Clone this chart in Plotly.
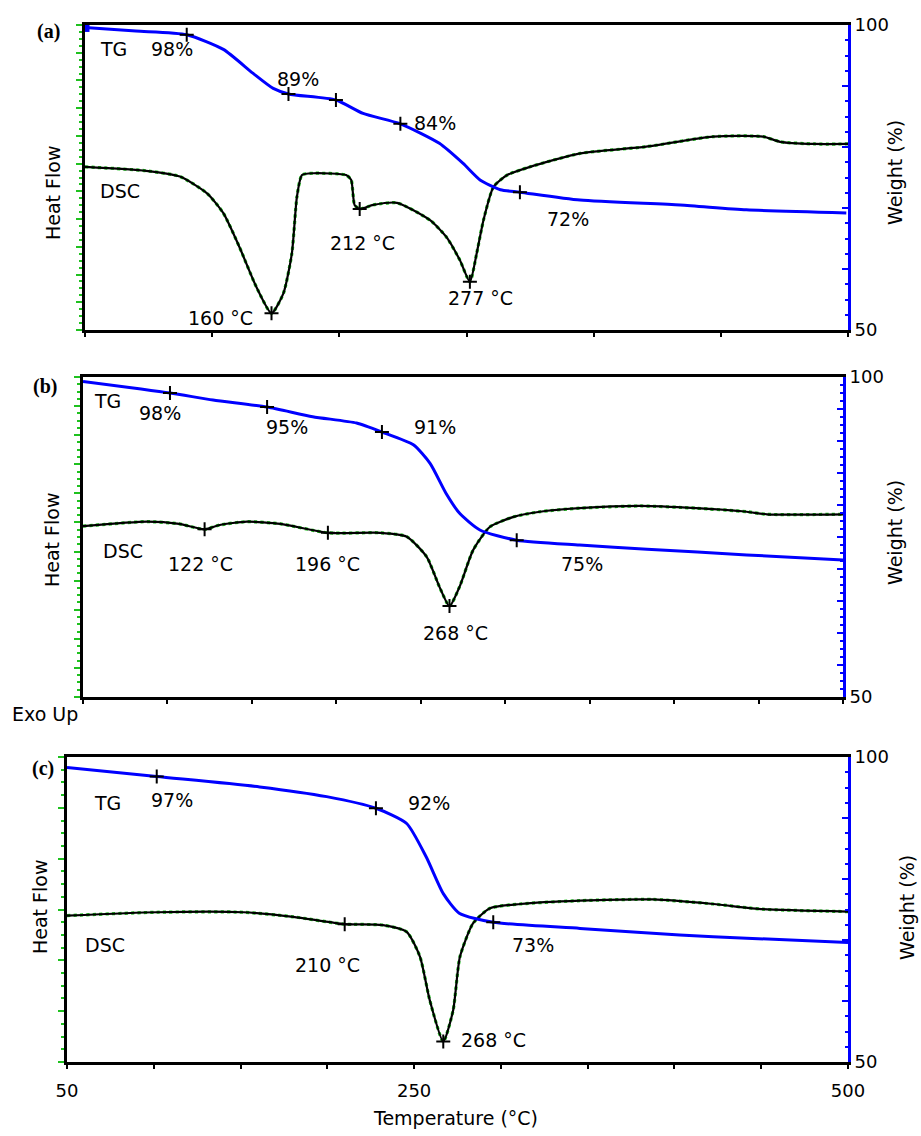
import plotly.graph_objects as go
import numpy as np

W, H = 921, 1136

# ---------------- data ----------------
# Panel (a)
a_tg_T = [50, 80, 110, 131.6, 149, 161, 170, 198, 214, 236, 259, 273, 283, 295, 306.5, 342, 401, 440, 499]
a_tg_W = [99.6, 99.0, 98.4, 96.0, 92.1, 89.6, 88.7, 87.7, 85.5, 83.8, 80.6, 77.3, 74.6, 73.0, 72.6, 71.3, 70.5, 69.7, 69.2]
a_dsc_T = [50, 86, 106, 122, 131.6, 141, 151, 160, 167, 172, 175, 178, 185, 204, 207, 209, 212, 220, 234, 253.5, 263, 271, 277,
           281, 285, 291, 299, 312.5, 342, 381, 420.5, 450, 460, 480, 500]
a_dsc_H = [53.5, 52.2, 50.3, 44.8, 38.3, 27.3, 14.2, 5.5, 12, 25.1, 43.7, 50.8, 51.4, 50.8, 49.2, 41, 39.7, 41, 41.7, 36, 30.6, 23, 15.8,
           25.1, 36, 47, 50.8, 53.5, 57.9, 60.1, 63.4, 63.4, 61.7, 61, 61]
a_tg_mark_T = [110, 170, 198, 236, 306.5]
a_tg_mark_W = [98.4, 88.7, 87.7, 83.8, 72.6]
a_dsc_mark_T = [160, 212, 277]
a_dsc_mark_H = [5.5, 39.7, 15.8]

# Panel (b)
b_tg_T = [50, 101.5, 127, 159, 186, 212, 227, 245.6, 255.5, 265, 273, 285, 306.8, 344, 384, 443, 500]
b_tg_W = [99.3, 97.5, 96.4, 95.3, 93.8, 92.8, 91.4, 89.4, 86.5, 81.8, 78.7, 76.1, 74.5, 73.75, 73.1, 72.2, 71.4]
b_dsc_T = [50, 88, 107, 122, 131, 147, 167, 195, 226, 241.7, 253.5, 261, 267, 273, 281, 291, 305, 320.6, 344, 380, 413, 443, 455, 500]
b_dsc_H = [53.4, 54.8, 54.1, 52.4, 53.75, 54.8, 54.1, 51.3, 51.3, 50.1, 43.8, 34.5, 28.4, 34.5, 45.9, 53.2, 56.3, 57.9, 59, 59.7, 59, 57.9, 57.1, 57.1]
b_tg_mark_T = [101.5, 159, 227, 306.8]
b_tg_mark_W = [97.5, 95.3, 91.4, 74.5]
b_dsc_mark_T = [122, 195, 267]
b_dsc_mark_H = [52.4, 51.3, 28.4]

# Panel (c)
c_tg_T = [50, 101.7, 161, 199.6, 228, 245.7, 257, 266.8, 276, 295.6, 345.6, 403, 441.6, 500]
c_tg_W = [98.3, 96.8, 95.1, 93.5, 91.6, 89.1, 83.6, 77.6, 74.4, 72.9, 71.9, 70.8, 70.3, 69.6]
c_dsc_T = [50, 101.7, 151.6, 180.4, 210, 232, 245.7, 253.4, 259, 266.8, 272.5, 276.4, 284, 293.7, 311, 345.6, 387.8, 422.4, 451, 500]
c_dsc_H = [48, 49.1, 49.1, 47.6, 45.2, 44.9, 42.7, 34.5, 20.3, 6.7, 17, 34.5, 45.5, 50.4, 51.8, 52.9, 53.3, 51.8, 50.1, 49.3]
c_tg_mark_T = [101.7, 228, 295.6]
c_tg_mark_W = [96.8, 91.6, 72.9]
c_dsc_mark_T = [210, 266.8]
c_dsc_mark_H = [45.2, 6.7]

x_tick_vals = [50, 100, 150, 200, 250, 300, 350, 400, 450, 500]
x_tick_text = ["50", "", "", "", "250", "", "", "", "", "500"]

# ---------------- layout geometry (pixels) ----------------
panels = [
    dict(l=85, r=848, t=25, b=330, xd=75, hn=11, wd=10),
    dict(l=83, r=843, t=377, b=697, xd=50, hn=11, wd=5),
    dict(l=67, r=848, t=757, b=1062, xd=50, hn=6, wd=10),
]
data = [
    (a_tg_T, a_tg_W, a_dsc_T, a_dsc_H, a_tg_mark_T, a_tg_mark_W, a_dsc_mark_T, a_dsc_mark_H),
    (b_tg_T, b_tg_W, b_dsc_T, b_dsc_H, b_tg_mark_T, b_tg_mark_W, b_dsc_mark_T, b_dsc_mark_H),
    (c_tg_T, c_tg_W, c_dsc_T, c_dsc_H, c_tg_mark_T, c_tg_mark_W, c_dsc_mark_T, c_dsc_mark_H),
]

FONT = "DejaVu Sans"
TXT = 19
GREEN = "#1fc11f"
BLUE = "#0000ff"

def px(x):
    return x / W

def py(y):
    return 1 - y / H

fig = go.Figure()
layout = dict(
    width=W, height=H, margin=dict(l=0, r=0, t=0, b=0, autoexpand=False),
    paper_bgcolor="white", plot_bgcolor="white", showlegend=False,
    font=dict(family=FONT, size=18, color="black"),
)

for i, (p, d) in enumerate(zip(panels, data)):
    tgT, tgW, dT, dH, tmT, tmW, dmT, dmH = d
    xn = "x" if i == 0 else f"x{i+1}"
    yl = "y" if i == 0 else f"y{2*i+1}"
    yr = f"y{2*i+2}"
    xk = "xaxis" if i == 0 else f"xaxis{i+1}"
    ylk = "yaxis" if i == 0 else f"yaxis{2*i+1}"
    yrk = f"yaxis{2*i+2}"

    # DSC (green dashed underlay + black line)
    fig.add_trace(go.Scatter(x=dT, y=dH, xaxis=xn, yaxis=yl, mode="lines",
                             line=dict(color=GREEN, width=3.2, dash="dot", shape="spline", smoothing=0.6),
                             hoverinfo="skip"))
    fig.add_trace(go.Scatter(x=dT, y=dH, xaxis=xn, yaxis=yl, mode="lines",
                             line=dict(color="black", width=2.2, shape="spline", smoothing=0.6)))
    fig.add_trace(go.Scatter(x=dmT, y=dmH, xaxis=xn, yaxis=yl, mode="markers",
                             marker=dict(symbol="cross-thin", size=10, line=dict(color="black", width=2))))
    # TG
    fig.add_trace(go.Scatter(x=tgT, y=tgW, xaxis=xn, yaxis=yr, mode="lines",
                             line=dict(color=BLUE, width=3, shape="spline", smoothing=0.6)))
    fig.add_trace(go.Scatter(x=tmT, y=tmW, xaxis=xn, yaxis=yr, mode="markers",
                             marker=dict(symbol="cross-thin", size=10, line=dict(color="black", width=2))))

    xdom = [px(p["l"]), px(p["r"])]
    ydom = [py(p["b"]), py(p["t"])]
    xticks = list(range(50, 501, p["xd"]))
    xax = dict(domain=xdom, range=[50, 500], anchor=yl, showline=True, mirror=True,
               linecolor="black", linewidth=3, showgrid=False, zeroline=False,
               ticks="outside", ticklen=4, tickwidth=2, tickcolor="black",
               tickvals=xticks, fixedrange=True)
    if i == 2:
        xax["tickvals"] = x_tick_vals
        xax["ticktext"] = x_tick_text
        xax["showticklabels"] = True
        xax["ticklabelstandoff"] = 6
        xax["tickfont"] = dict(size=18)
    else:
        xax["showticklabels"] = False
    layout[xk] = xax

    hvals = list(np.linspace(0, 100, p["hn"] + 1))
    layout[ylk] = dict(domain=ydom, range=[0, 100], anchor=xn, showline=True, linecolor="black",
                       linewidth=2.5, showgrid=False, zeroline=False, ticks="outside", ticklen=6,
                       tickwidth=2, tickcolor=GREEN, tickvals=hvals, showticklabels=False,
                       minor=dict(ticks="outside", ticklen=3, tickwidth=2, tickcolor=GREEN,
                                  tick0=0, dtick=100 / p["hn"] / 4))
    wvals = list(range(50, 101, p["wd"]))
    layout[yrk] = dict(domain=ydom, range=[50, 100], anchor=xn, overlaying=yl, side="right",
                       showline=True, linecolor=BLUE, linewidth=3, showgrid=False, zeroline=False,
                       ticks="inside", ticklen=6, tickwidth=2, tickcolor=BLUE, tickvals=wvals,
                       ticktext=[str(v) if v in (50, 100) else "" for v in wvals],
                       tickfont=dict(size=18, color="black"),
                       minor=dict(ticks="inside", ticklen=3, tickwidth=2, tickcolor=BLUE, tick0=50,
                                  dtick=p["wd"] / 4))

fig.update_layout(**layout)

# start marker (blue square) on panel (a)
fig.add_trace(go.Scatter(x=[a_tg_T[0]], y=[a_tg_W[0]], xaxis="x", yaxis="y2", mode="markers",
                         marker=dict(symbol="square", size=9, color=BLUE)))

# ---------------- texts ----------------
texts = [
    ("TG", 113, 49), ("98%", 172, 49), ("89%", 298, 79), ("84%", 435, 123), ("DSC", 120, 191),
    ("160 °C", 220, 318), ("212 °C", 362, 243), ("277 °C", 480, 298), ("72%", 568, 219),
    ("TG", 107, 401), ("98%", 160, 413), ("95%", 287, 427), ("91%", 435, 427), ("DSC", 123, 551),
    ("122 °C", 200, 564), ("196 °C", 327, 564), ("268 °C", 455, 633), ("75%", 582, 564),
    ("TG", 107, 803), ("97%", 172, 800), ("92%", 429, 803), ("DSC", 105, 945),
    ("210 °C", 327, 965), ("268 °C", 493, 1040), ("73%", 533, 945),
    ("Exo Up", 45, 714), ("Temperature (°C)", 455, 1118),
]
for t, x, y in texts:
    fig.add_annotation(text=t, x=px(x), y=py(y), xref="paper", yref="paper", showarrow=False,
                       xanchor="center", yanchor="middle", font=dict(family=FONT, size=TXT, color="black"))

for t, x, y in [("Heat Flow", 53, 193), ("Heat Flow", 52, 540), ("Heat Flow", 40, 907),
                ("Weight (%)", 895, 173), ("Weight (%)", 895, 533), ("Weight (%)", 907, 908)]:
    fig.add_annotation(text=t, x=px(x), y=py(y), xref="paper", yref="paper", showarrow=False,
                       textangle=-90, xanchor="center", yanchor="middle",
                       font=dict(family=FONT, size=TXT, color="black"))

for t, x, y in [("(a)", 48, 32), ("(b)", 45, 386), ("(c)", 43, 768)]:
    fig.add_annotation(text=f"<b>{t}</b>", x=px(x), y=py(y), xref="paper", yref="paper", showarrow=False,
                       xanchor="center", yanchor="middle",
                       font=dict(family="Liberation Serif", size=20, color="black"))

fig.write_html("out.html")
